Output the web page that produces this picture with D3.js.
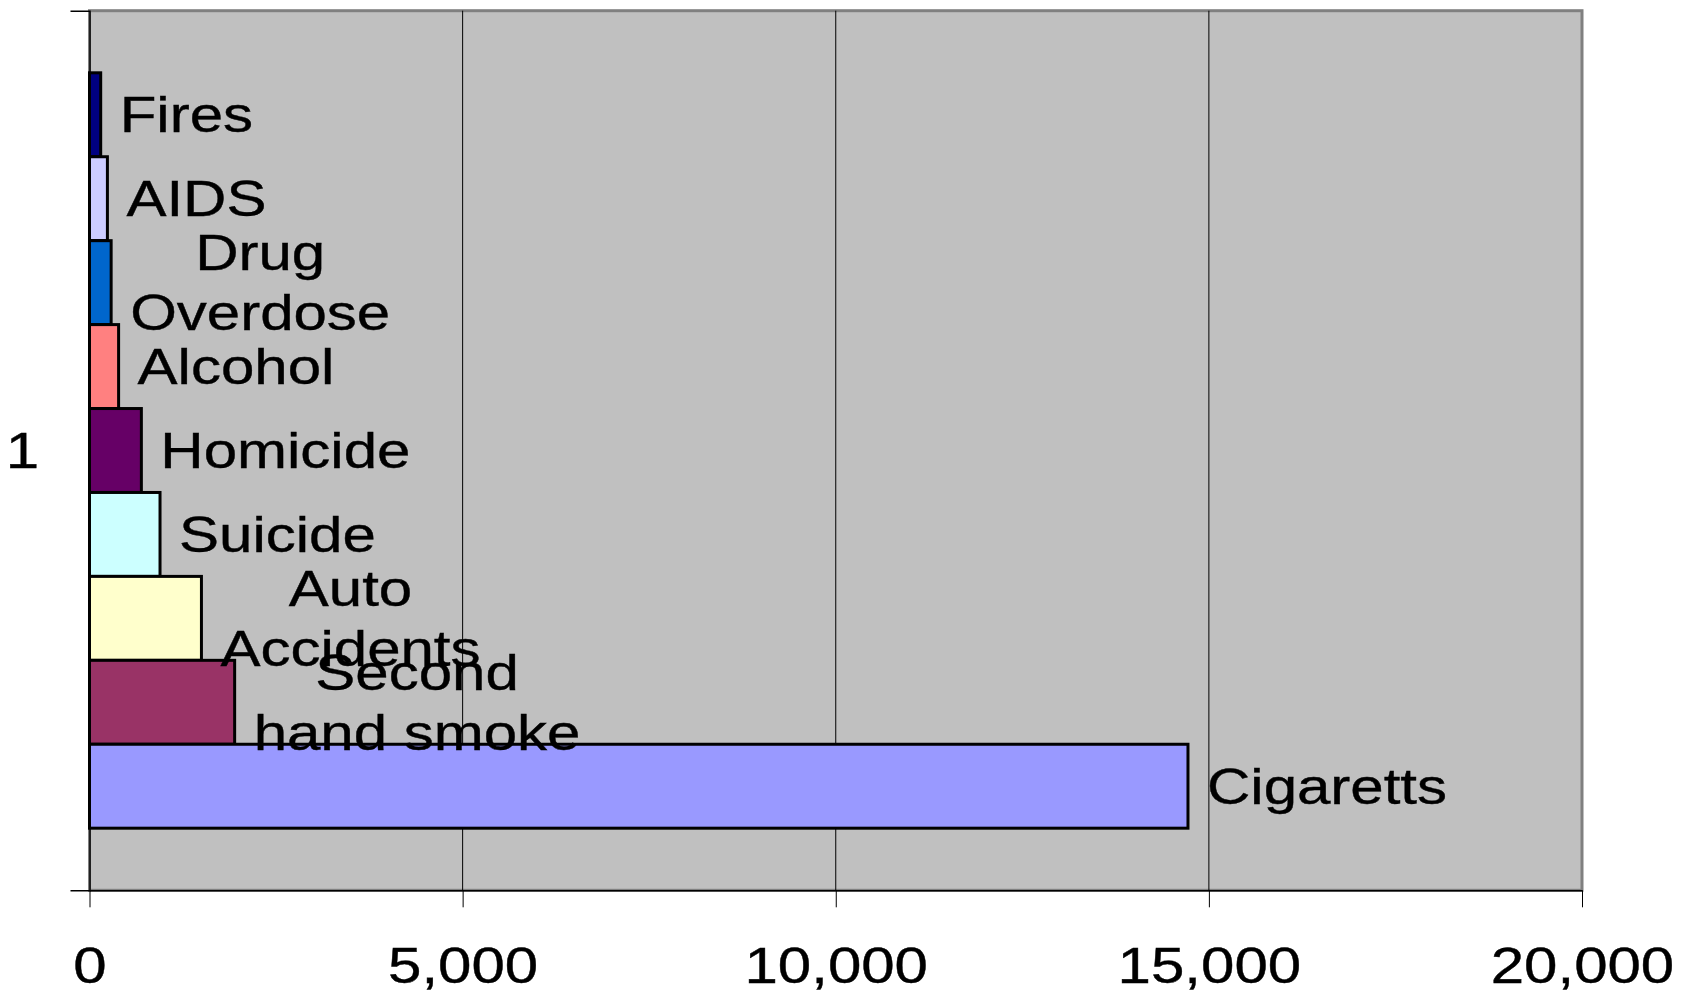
<!DOCTYPE html>
<html>
<head>
<meta charset="utf-8">
<script src="https://cdn.jsdelivr.net/npm/d3@7/dist/d3.min.js"></script>
<style>
  html, body { margin: 0; padding: 0; background: #ffffff; }
  svg { display: block; }
  text { font-family: "Liberation Sans", Arial, sans-serif; fill: #000; stroke: #000; stroke-width: 0.4px; }
</style>
</head>
<body>
<svg id="chart" width="1688" height="994"></svg>
<script>
// Annual deaths by cause (one category, nine series)
const categories = ["1"];
const seriesNames = ["Fires", "AIDS", "Drug Overdose", "Alcohol", "Homicide",
                     "Suicide", "Auto Accidents", "Second hand smoke", "Cigaretts"];
const seriesValues = [150, 240, 290, 390, 695, 945, 1500, 1945, 14720];
const labelLines = [["Fires"], ["AIDS"], ["Drug", "Overdose"], ["Alcohol"], ["Homicide"],
                    ["Suicide"], ["Auto", "Accidents"], ["Second", "hand smoke"], ["Cigaretts"]];
const seriesColors = ["#000080", "#CCCCFF", "#0066CC", "#FF8080", "#660066",
                      "#CCFFFF", "#FFFFCC", "#993366", "#9999FF"];
const xTicks = [0, 5000, 10000, 15000, 20000];
const xDomain = [0, 20000];

const svg = d3.select("#chart");
const margin = { left: 89.5, top: 10.7, right: 106, bottom: 103.7 };
const W = 1688 - margin.left - margin.right;
const H = 994 - margin.top - margin.bottom;
const FONT = 50, SX = 1.2, LINE = 60, BASE = 17.3;

const x = d3.scaleLinear().domain(xDomain).range([0, W]);
const yCat = d3.scaleBand().domain(categories).range([0, H]);
const ySeries = d3.scaleBand().domain(seriesNames).range([0, yCat.bandwidth()])
  .paddingInner(0).paddingOuter(0.74);

const g = svg.append("g").attr("transform", `translate(${margin.left},${margin.top})`);

// plot area
g.append("rect").attr("x", 0).attr("y", 0).attr("width", W).attr("height", H)
  .attr("fill", "#C0C0C0").attr("stroke", "#808080").attr("stroke-width", 3);

// vertical gridlines
g.append("g").selectAll("line")
  .data(xTicks.filter(d => d > xDomain[0] && d < xDomain[1]))
  .join("line")
  .attr("x1", d => x(d)).attr("x2", d => x(d))
  .attr("y1", 0).attr("y2", H)
  .attr("stroke", "#000").attr("stroke-width", 1);

// bars
const cat = categories[0];
const bars = seriesNames.map((name, i) => ({ name, value: seriesValues[i], color: seriesColors[i], lines: labelLines[i] }));
g.append("g").selectAll("rect")
  .data(bars)
  .join("rect")
  .attr("x", x(0))
  .attr("y", d => yCat(cat) + ySeries(d.name))
  .attr("width", d => x(d.value) - x(0))
  .attr("height", ySeries.bandwidth())
  .attr("fill", d => d.color)
  .attr("stroke", "#000").attr("stroke-width", 3);

// x axis
const xAxis = g.append("g").attr("transform", `translate(0,${H})`)
  .call(d3.axisBottom(x).tickValues(xTicks).tickFormat(d3.format(",")).tickSize(17).tickSizeOuter(0));
xAxis.select(".domain").attr("stroke", "#000").attr("stroke-width", 1.5);
xAxis.selectAll(".tick line").attr("stroke", "#000").attr("stroke-width", 1);
xAxis.selectAll(".tick text")
  .attr("font-size", FONT).attr("y", 93).attr("dy", 0)
  .attr("transform", `scale(${SX},1)`)
  .style("font-family", '"Liberation Sans", Arial, sans-serif').attr("fill", "#000");

// y (category) axis
const yAxis = g.append("g")
  .call(d3.axisLeft(yCat).tickSizeInner(0).tickSizeOuter(19).tickPadding(0));
yAxis.select(".domain").attr("stroke", "#000").attr("stroke-width", 1.5);
yAxis.selectAll(".tick text")
  .attr("font-size", FONT).attr("text-anchor", "middle")
  .attr("x", -67 / SX).attr("dy", 0).attr("y", BASE)
  .attr("transform", `scale(${SX},1)`)
  .style("font-family", '"Liberation Sans", Arial, sans-serif').attr("fill", "#000");

// data labels: series names at the outside end of each bar
const labels = g.append("g").selectAll("g")
  .data(bars)
  .join("g")
  .attr("transform", d => `translate(${x(d.value) + 19},${yCat(cat) + ySeries(d.name) + ySeries.bandwidth() / 2})`);

labels.each(function (d) {
  const t = d3.select(this).append("text")
    .attr("font-size", FONT)
    .attr("text-anchor", "middle")
    .attr("transform", `scale(${SX},1)`);
  const n = d.lines.length;
  const spans = t.selectAll("tspan").data(d.lines).join("tspan")
    .attr("y", (l, j) => (j - (n - 1) / 2) * LINE + BASE)
    .text(l => l);
  let maxLen = 0;
  spans.each(function () { maxLen = Math.max(maxLen, this.getComputedTextLength()); });
  spans.attr("x", maxLen / 2);
});
</script>
</body>
</html>
